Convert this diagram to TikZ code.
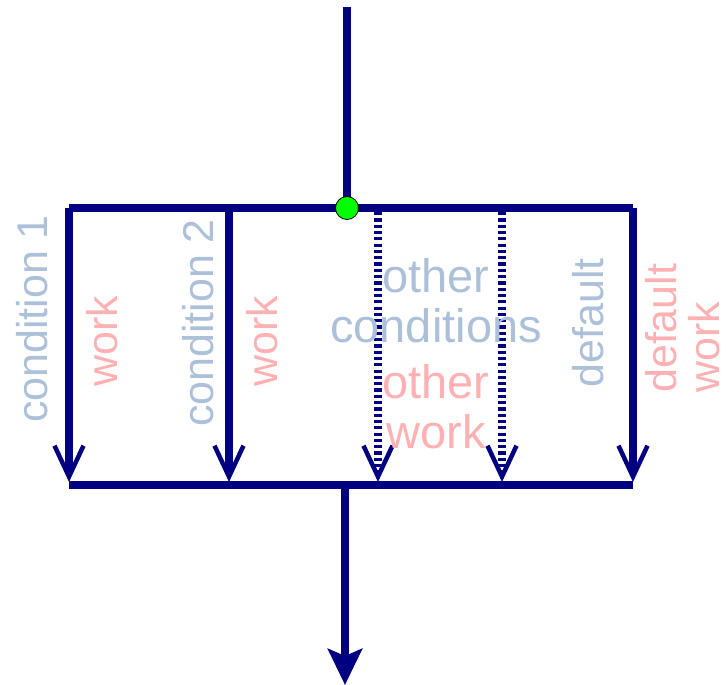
\documentclass[tikz,border=0pt]{standalone}
\usepackage{fontspec}
\setmainfont{Liberation Sans}
\usepackage{xcolor}
\definecolor{colorFlow}{RGB}{0,0,128}
\definecolor{colorCondition}{RGB}{172,192,218}
\definecolor{colorWork}{RGB}{255,176,178}
\definecolor{colorJoint}{RGB}{0,255,0}
\usetikzlibrary{arrows.meta, positioning}
\tikzset{
  flow/.style={draw=colorFlow, line width=8pt},
  branch/.style={flow, -{Straight Barb[length=31pt, width=29pt, line width=4.5pt]}},
  otherbranch/.style={branch, dash pattern=on 3.2pt off 3.1pt},
  joint/.style={circle, draw=black, line width=0.8pt, fill=colorJoint, minimum size=23pt, inner sep=0pt},
  sidetext/.style={inner sep=0pt, rotate=90, font=\fontsize{43}{46}\selectfont},
  midtext/.style={inner sep=0pt, align=center, font=\fontsize{47}{50}\selectfont},
}

\begin{document}
\begin{tikzpicture}[x=1pt, y=-1pt]
\useasboundingbox (0,0) rectangle (726,685);
% switch head and the two bars
\coordinate (entry) at (347,7);
\coordinate (barL) at (69,208);
\coordinate (barR) at (633,208);
\coordinate (joinL) at (69,485);
\coordinate (joinR) at (633,485);
\coordinate (join) at (345,485);
\coordinate (exit) at (345,685);
\coordinate (case1) at (69,208);
\coordinate (case2) at (229,208);
\coordinate (case3) at (378,212);
\coordinate (case4) at (502,212);
\coordinate (case5) at (633,208);
\coordinate (end1) at (69,482);
\coordinate (end2) at (229,482);
\coordinate (end3) at (378,482);
\coordinate (end4) at (502,482);
\coordinate (end5) at (633,482);
\draw [flow] (entry) -- (347,208);
\draw [flow] (barL) -- (barR);
\draw [branch] (case1) -- (end1);
\draw [branch] (case2) -- (end2);
\draw [otherbranch] (case3) -- (end3);
\draw [otherbranch] (case4) -- (end4);
\draw [branch] (case5) -- (end5);
\draw [flow] (joinL) -- (joinR);
\draw [flow, -{Stealth[length=36pt, width=34pt, inset=7pt]}] (join) -- (exit);
\node [joint] (fork) at (347,208) {};
% labels
\node [sidetext, anchor=base, text=colorCondition] (cond1) at (47,319) {condition 1};
\node [sidetext, anchor=base, text=colorWork] (work1) at (117,341) {work};
\node [sidetext, anchor=base, text=colorCondition] (cond2) at (213,323) {condition 2};
\node [sidetext, anchor=base, text=colorWork] (work2) at (277,341) {work};
\node [midtext, anchor=north, text=colorCondition] (othcond) at (436,258) {other\\conditions};
\node [midtext, below=21pt of othcond, text=colorWork] (othwork) {other\\work};
\node [sidetext, anchor=base, text=colorCondition] (deflt) at (603,323) {default};
\node [sidetext, align=left, anchor=north west, text=colorWork, font=\fontsize{43}{43}\selectfont] (defwork) at (645,393) {default\\work};
\end{tikzpicture}
\end{document}
